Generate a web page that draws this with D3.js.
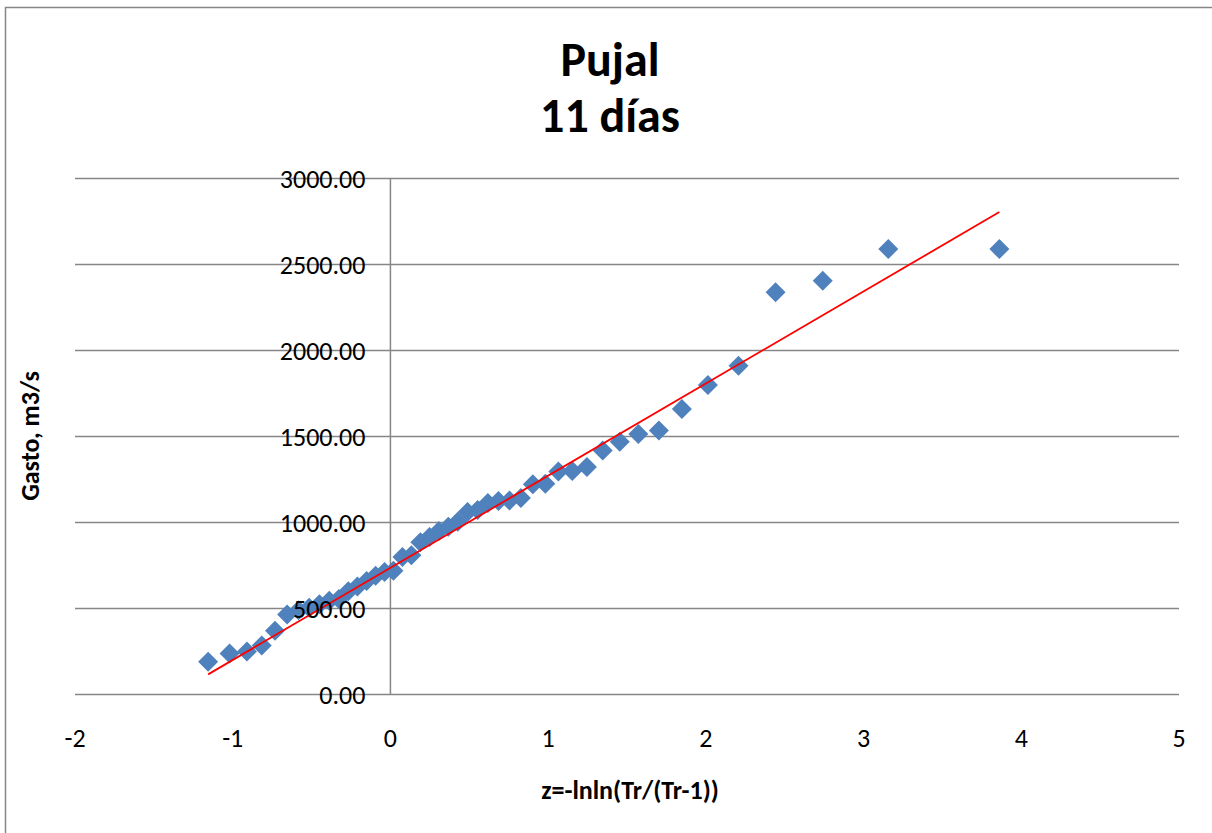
<!DOCTYPE html>
<html>
<head>
    <script type="text/javascript" src="https://d3js.org/d3.v7.min.js"></script>
    <style>
        body { margin: 0; background: #fff; }
        svg { display: block; font-family: Carlito, Calibri, Lato, sans-serif; }
    </style>
</head>
<body>
    <svg></svg>
    <script>
        // Gumbel plot data: z = -lnln(Tr/(Tr-1)) and gasto (m3/s)
        const zValues = [3.861, 3.157, 2.741, 2.442, 2.207, 2.013, 1.848, 1.702, 1.572, 1.454,
            1.346, 1.246, 1.153, 1.065, 0.982, 0.903, 0.827, 0.755, 0.685, 0.618,
            0.553, 0.489, 0.427, 0.367, 0.307, 0.248, 0.190, 0.133, 0.076, 0.019,
            -0.037, -0.094, -0.151, -0.209, -0.267, -0.327, -0.388, -0.450, -0.515, -0.583,
            -0.655, -0.732, -0.816, -0.910, -1.020, -1.156];
        const gasto = [2590, 2590, 2406, 2338, 1912, 1800, 1660, 1535, 1514, 1470,
            1418, 1323, 1300, 1296, 1225, 1222, 1142, 1128, 1125, 1113,
            1073, 1061, 1005, 975, 950, 915, 885, 810, 800, 720,
            712, 690, 660, 628, 600, 555, 545, 525, 505, 490,
            465, 370, 285, 250, 238, 190];

        // trend line end points
        const trendZ = [-1.156, 3.861];
        const trendQ = [117, 2805];

        const xTicks = [-2, -1, 0, 1, 2, 3, 4, 5];
        const yTicks = [0, 500, 1000, 1500, 2000, 2500, 3000];
        const titleLines = ["Pujal", "11 días"];

        const W = 1212, H = 833;
        const svg = d3.select("svg").attr("width", W).attr("height", H);

        // chart border
        svg.append("rect")
            .attr("x", 5.5).attr("y", 7.5)
            .attr("width", W).attr("height", H)
            .attr("fill", "#fff")
            .attr("stroke", "#868686")
            .attr("stroke-width", 1.5);

        const x = d3.scaleLinear().domain([-2, 5]).range([75, 1179]);
        const y = d3.scaleLinear().domain([0, 3000]).range([694.5, 178.5]);

        // gridlines
        svg.append("g").selectAll("line")
            .data(yTicks)
            .enter()
            .append("line")
            .attr("x1", x(-2)).attr("x2", x(5))
            .attr("y1", d => y(d)).attr("y2", d => y(d))
            .attr("stroke", "#868686")
            .attr("stroke-width", 1.5);

        // vertical axis at z = 0
        svg.append("line")
            .attr("x1", x(0)).attr("x2", x(0))
            .attr("y1", y(3000)).attr("y2", y(0))
            .attr("stroke", "#868686")
            .attr("stroke-width", 1.5);

        // points
        const pts = zValues.map((z, i) => ({ z: z, q: gasto[i] }));
        svg.append("g").selectAll("path")
            .data(pts)
            .enter()
            .append("path")
            .attr("d", d3.symbol().type(d3.symbolSquare).size(200))
            .attr("transform", d => `translate(${x(d.z)},${y(d.q)}) rotate(45)`)
            .attr("fill", "#4f81bd");

        // trend line
        svg.append("line")
            .attr("x1", x(trendZ[0])).attr("y1", y(trendQ[0]))
            .attr("x2", x(trendZ[1])).attr("y2", y(trendQ[1]))
            .attr("stroke", "#ff0000")
            .attr("stroke-width", 1.8);

        // y tick labels (next to the axis)
        svg.append("g").selectAll("text")
            .data(yTicks)
            .enter()
            .append("text")
            .attr("x", x(0) - 25)
            .attr("y", d => y(d))
            .attr("dy", "0.35em")
            .attr("text-anchor", "end")
            .attr("font-size", 26)
            .attr("fill", "#000")
            .text(d => d3.format(".2f")(d));

        // x tick labels
        svg.append("g").selectAll("text")
            .data(xTicks)
            .enter()
            .append("text")
            .attr("x", d => x(d))
            .attr("y", 738)
            .attr("dy", "0.35em")
            .attr("text-anchor", "middle")
            .attr("font-size", 26)
            .attr("fill", "#000")
            .text(d => d);

        // title
        svg.append("g").selectAll("text")
            .data(titleLines)
            .enter()
            .append("text")
            .attr("x", 610)
            .attr("y", (d, i) => 76 + i * 56)
            .attr("text-anchor", "middle")
            .attr("font-size", 48)
            .attr("font-weight", "bold")
            .text(d => d);

        // axis titles
        svg.append("text")
            .attr("x", 630).attr("y", 799)
            .attr("text-anchor", "middle")
            .attr("font-size", 26)
            .attr("font-weight", "bold")
            .text("z=-lnln(Tr/(Tr-1))");

        svg.append("text")
            .attr("transform", "translate(39,436) rotate(-90)")
            .attr("text-anchor", "middle")
            .attr("font-size", 26)
            .attr("font-weight", "bold")
            .text("Gasto, m3/s");
    </script>
</body>
</html>
